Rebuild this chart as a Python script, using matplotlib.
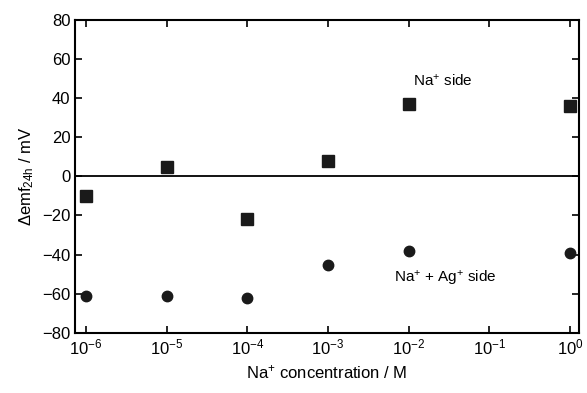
import numpy as np
import matplotlib
matplotlib.use("Agg")
import matplotlib.pyplot as plt

plt.rcParams['font.family'] = ['Liberation Sans', 'DejaVu Sans']
plt.rcParams['mathtext.fontset'] = 'custom'
plt.rcParams['mathtext.rm'] = 'Liberation Sans'
plt.rcParams['mathtext.it'] = 'Liberation Sans'
plt.rcParams['mathtext.default'] = 'regular'

conc = [1e-6, 1e-5, 1e-4, 1e-3, 1e-2, 1e0]
na_side = [-10, 4.5, -22, 8, 37, 36]
na_ag_side = [-61, -61, -62, -45.5, -38, -39]

fig, ax = plt.subplots(figsize=(5.87, 3.93), dpi=100)
fig.subplots_adjust(left=0.128, right=0.986, top=0.95, bottom=0.153)

ax.axhline(0, color='black', lw=1.3, zorder=1)
ax.plot(conc, na_side, 's', color='#1a1a1a', ms=8.5, clip_on=False, zorder=3)
ax.plot(conc, na_ag_side, 'o', color='#1a1a1a', ms=7.5, clip_on=False, zorder=3)

ax.set_xscale('log')
ax.set_xlim(10**-6.136, 10**0.11)
ax.set_ylim(-80, 80)
ax.set_yticks(np.arange(-80, 81, 20))
ax.xaxis.set_minor_locator(matplotlib.ticker.NullLocator())
ax.tick_params(direction='in', length=5, width=1.2, top=True, right=True, labelsize=12)
for s in ax.spines.values():
    s.set_linewidth(1.5)

ax.set_xlabel('Na$^{+}$ concentration / M', fontsize=12)
ax.set_ylabel('$\\Delta$emf$_{24h}$ / mV', fontsize=12)

ax.text(10**-1.58, 49, 'Na$^{+}$ side', fontsize=11, ha='center', va='center')
ax.text(10**-1.55, -52, 'Na$^{+}$ + Ag$^{+}$ side', fontsize=11, ha='center', va='center')

fig.savefig('out.png', dpi=100)
